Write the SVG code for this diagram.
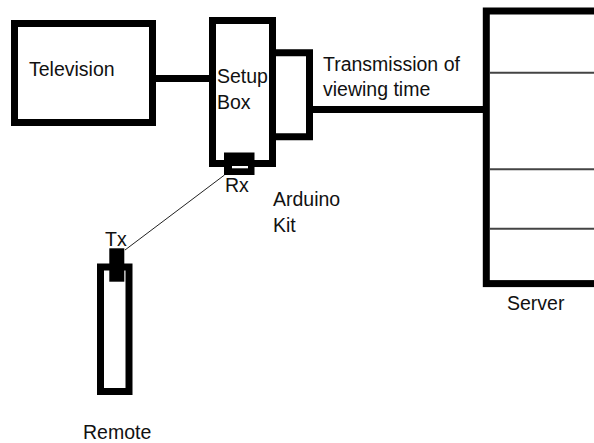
<svg xmlns="http://www.w3.org/2000/svg" width="594" height="443" viewBox="0 0 594 443">
<style>
.box{fill:#fff;stroke:#000;stroke-width:7}
.thick{fill:none;stroke:#000;stroke-width:7}
.lbl{font-family:"Liberation Sans",Arial,sans-serif;font-size:19.5px;fill:#111}
</style>
<rect width="594" height="443" fill="#fff"/>
<g id="connectors">
<line x1="152" y1="78.5" x2="214" y2="78.5" class="thick"/>
<line x1="309" y1="109.5" x2="487" y2="109.5" class="thick"/>
<line x1="224.5" y1="175" x2="125" y2="250" stroke="#222" stroke-width="1"/>
</g>
<g id="television">
<rect x="14.5" y="23.5" width="138" height="99" class="box"/>
<text x="29" y="76" class="lbl">Television</text>
</g>
<g id="setup-box">
<rect x="212.5" y="20.5" width="60" height="143" class="box"/>
<text x="217" y="83" class="lbl">Setup</text>
<text x="217" y="109" class="lbl">Box</text>
</g>
<g id="arduino-kit">
<path d="M272.5 52.8 H309.5 V136.7 H272.5" class="thick"/>
<text x="273" y="206" class="lbl">Arduino</text>
<text x="273" y="232" class="lbl">Kit</text>
</g>
<g id="rx">
<rect x="224" y="152.5" width="30.5" height="22.5" fill="#000"/>
<rect x="232" y="166" width="16" height="2.3" fill="#fff"/>
<text x="225" y="192" class="lbl">Rx</text>
</g>
<g id="server">
<rect x="486.3" y="11" width="130" height="272.6" class="box"/>
<line x1="490" y1="72.7" x2="594" y2="72.7" stroke="#444" stroke-width="2"/>
<line x1="490" y1="169.3" x2="594" y2="169.3" stroke="#444" stroke-width="2"/>
<line x1="490" y1="228.7" x2="594" y2="228.7" stroke="#444" stroke-width="2"/>
<text x="507" y="310" class="lbl">Server</text>
</g>
<g id="transmission-label">
<text x="323" y="71" class="lbl">Transmission of</text>
<text x="323" y="96" class="lbl">viewing time</text>
</g>
<g id="remote">
<rect x="100.5" y="267" width="28.5" height="124.5" class="box"/>
<rect x="109.3" y="248.3" width="15" height="33.4" fill="#000"/>
<text x="105" y="246" class="lbl">Tx</text>
<text x="83" y="439" class="lbl">Remote</text>
</g>
</svg>
